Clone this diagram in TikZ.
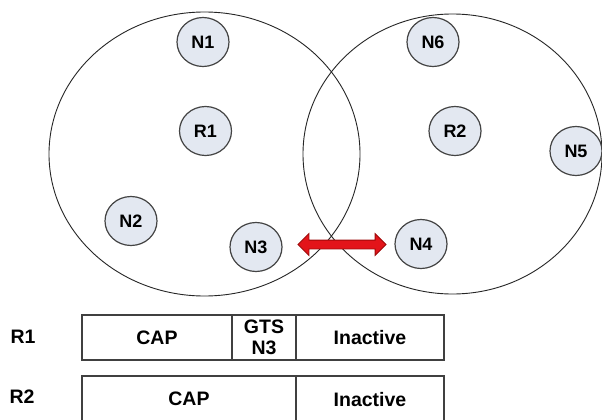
\documentclass[tikz,border=0pt]{standalone}
\usepackage{fontspec}
\setmainfont{Liberation Sans}
\usetikzlibrary{shapes.geometric,shapes.arrows,calc}
\definecolor{nodefill}{HTML}{E3E8F1}
\definecolor{nodeline}{HTML}{444444}
\definecolor{arrred}{HTML}{E3141A}
\definecolor{arrdark}{HTML}{9E0A0A}
\tikzset{
  dev/.style={ellipse, draw=nodeline, line width=1.2pt, fill=nodefill, inner sep=0pt,
    minimum width=52pt, minimum height=49pt, font=\fontsize{18}{20}\selectfont\bfseries},
  zone/.style={draw=black!85, line width=0.9pt},
  cell/.style={draw=black!75, line width=1.1pt, rectangle, inner sep=0pt, align=center,
    font=\fontsize{19.5}{23}\selectfont\bfseries},
  rowlab/.style={font=\fontsize{19.5}{23}\selectfont\bfseries, inner sep=0pt},
  link/.style={double arrow, fill=arrred, draw=arrdark, line width=0.8pt, inner sep=0pt,
    double arrow head extend=6.5pt, minimum height=88pt}
}
\begin{document}
\begin{tikzpicture}[x=1pt,y=-1pt]
\clip (0,0) rectangle (602,420);
\fill[white] (0,0) rectangle (602,420);
% coverage zones
\draw[zone] (204.5,154) ellipse [x radius=155.5, y radius=142];
\draw[zone] (452.5,154) ellipse [x radius=149.5, y radius=140];
% devices
\node[dev] (N1) at (203,42) {N1};
\node[dev] (R1) at (205.5,131) {R1};
\node[dev] (N2) at (131,221) {N2};
\node[dev] (N3) at (256,247) {N3};
\node[dev] (N4) at (421,244) {N4};
\node[dev] (N6) at (433,42) {N6};
\node[dev] (R2) at (455,131) {R2};
\node[dev] (N5) at (576,151) {N5};
% interference link
\node[link] (L) at ($(N3.east)!0.5!(N4.west)+(3.5,-1)$) {\rule{0pt}{8pt}};
% superframe table
\node[rowlab] (lr1) at (23,337) {R1};
\node[rowlab] (lr2) at (22,397) {R2};
\node[cell, minimum width=150pt, minimum height=45pt] (cap1) at (157,337.5) {CAP};
\node[cell, minimum width=64pt, minimum height=45pt] (gts1) at (264,337.5) {GTS\\[-2pt]N3};
\node[cell, minimum width=148pt, minimum height=45pt] (ina1) at (370,337.5) {Inactive};
\node[cell, minimum width=214pt, minimum height=48pt] (cap2) at (189,400) {\raisebox{2pt}{CAP}};
\node[cell, minimum width=148pt, minimum height=48pt] (ina2) at (370,400) {\raisebox{2pt}{Inactive}};
\end{tikzpicture}
\end{document}
